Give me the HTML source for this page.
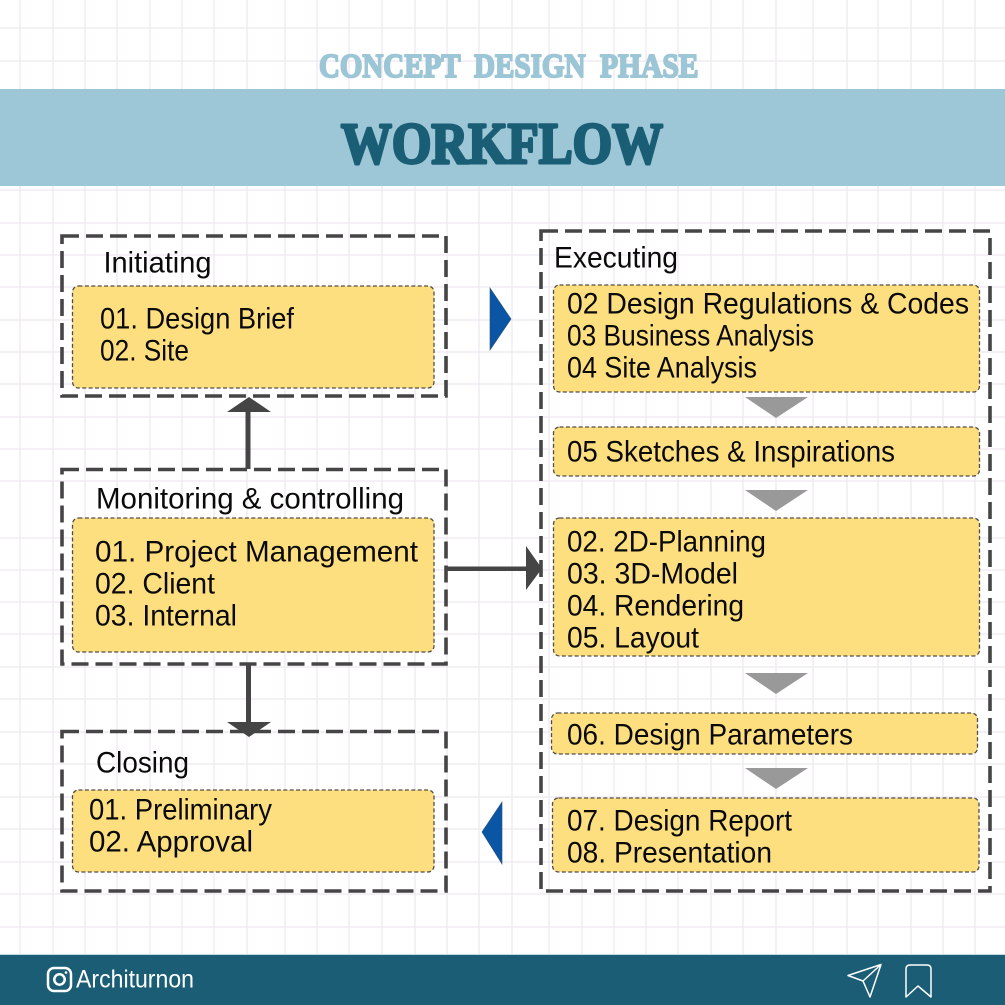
<!DOCTYPE html>
<html lang="en">
<head>
<meta charset="utf-8">
<title>Workflow</title>
<style>
html,body{margin:0;padding:0;background:#fff;width:1005px;height:1005px;overflow:hidden}
svg{display:block}
text{font-family:"Liberation Sans",sans-serif;font-size:29.5px;fill:#0a0a0a}
.t{font-family:"Liberation Serif",serif;font-weight:700}
.c{font-size:34px;fill:#9cc6d6;stroke:#9cc6d6;stroke-width:2;stroke-linejoin:round}
.o{fill:none;stroke:#454545;stroke-width:3.6;stroke-dasharray:17 7}
.i{fill:#fedf80;stroke:#4f4d48;stroke-width:1.3;stroke-dasharray:4 2.400}
.g{fill:#999}
</style>
</head>
<body>
<svg width="1005" height="1005" viewBox="0 0 1005 1005" xmlns="http://www.w3.org/2000/svg">
<rect width="1005" height="1005" fill="#fff"/>
<path fill="none" stroke="#f0ebf2" stroke-width="1.500" d="M20 0V955M53 0V955M85 0V955M117 0V955M150 0V955M182 0V955M214 0V955M247 0V955M285 0V955M317 0V955M349 0V955M382 0V955M415 0V955M447 0V955M479 0V955M512 0V955M549 0V955M582 0V955M614 0V955M646 0V955M678 0V955M711 0V955M743 0V955M776 0V955M813 0V955M847 0V955M878 0V955M911 0V955M943 0V955M975 0V955M0 28H1005M0 61H1005M0 190H1005M0 223H1005M0 255H1005M0 287H1005M0 320H1005M0 352H1005M0 384H1005M0 417H1005M0 449H1005M0 481H1005M0 538H1005M0 570H1005M0 602H1005M0 634H1005M0 667H1005M0 699H1005M0 732H1005M0 764H1005M0 797H1005M0 829H1005M0 862H1005M0 894H1005M0 927H1005"/>

<text class="t c" x="319" y="77" textLength="141.500" lengthAdjust="spacingAndGlyphs">CONCEPT</text>
<text class="t c" x="474" y="77" textLength="111.500" lengthAdjust="spacingAndGlyphs">DESIGN</text>
<text class="t c" x="600" y="77" textLength="98.500" lengthAdjust="spacingAndGlyphs">PHASE</text>
<rect x="0" y="89" width="1005" height="97" fill="#9dc6d6"/>
<text class="t" x="341" y="163" style="font-size:58px;fill:#1a5e76;stroke:#1a5e76;stroke-width:3;stroke-linejoin:round" textLength="322" lengthAdjust="spacingAndGlyphs">WORKFLOW</text>

<!-- outer boxes -->
<rect class="o" x="62" y="236" width="384" height="160"/>
<rect class="o" x="62" y="469.500" width="384" height="194.500"/>
<rect class="o" x="62" y="731.500" width="384" height="159.500"/>
<rect class="o" x="541" y="231" width="449" height="660"/>

<!-- inner boxes -->
<rect class="i" x="72.500" y="286" width="361.500" height="102" rx="6"/>
<rect class="i" x="72.500" y="518" width="361.500" height="134" rx="6"/>
<rect class="i" x="72.500" y="790" width="361.500" height="82" rx="6"/>
<rect class="i" x="553.500" y="285" width="426" height="107" rx="6"/>
<rect class="i" x="553.500" y="427" width="426" height="49" rx="6"/>
<rect class="i" x="553.500" y="518" width="426" height="138" rx="6"/>
<rect class="i" x="551.500" y="713" width="426" height="41" rx="6"/>
<rect class="i" x="552.500" y="798" width="426.500" height="74" rx="6"/>

<!-- connectors -->
<g fill="#454545" stroke="none">
<rect x="245.500" y="408" width="5" height="61"/>
<polygon points="227,412 249,397 271,412"/>
<rect x="246" y="664" width="5" height="60"/>
<polygon points="227,722 271,722 249,737"/>
<rect x="446" y="566.500" width="82" height="4.500"/>
<polygon points="526,546 542,568.500 526,590"/>
</g>

<!-- blue triangles -->
<polygon points="490,288 511,319 490,350" fill="#0b55a5" stroke="#24507e" stroke-width=".6"/>
<polygon points="502,802 482,832 502,864" fill="#0b55a5" stroke="#24507e" stroke-width=".6"/>

<!-- grey triangles -->
<polygon class="g" points="745,397 808,397 776,418"/>
<polygon class="g" points="745,490 808,490 776,511"/>
<polygon class="g" points="745,673 808,673 776,694"/>
<polygon class="g" points="745,768 808,768 776,789"/>

<!-- labels -->
<g transform="translate(0,.7)">
<text x="103.500" y="272" textLength="108" lengthAdjust="spacingAndGlyphs">Initiating</text>
<text x="100" y="328" textLength="194" lengthAdjust="spacingAndGlyphs">01. Design Brief</text>
<text x="100" y="360" textLength="89" lengthAdjust="spacingAndGlyphs">02. Site</text>

<text x="96" y="508" textLength="308" lengthAdjust="spacingAndGlyphs">Monitoring &amp; controlling</text>
<text x="95" y="561" textLength="323" lengthAdjust="spacingAndGlyphs">01. Project Management</text>
<text x="95" y="593" textLength="120" lengthAdjust="spacingAndGlyphs">02. Client</text>
<text x="95" y="625" textLength="142" lengthAdjust="spacingAndGlyphs">03. Internal</text>

<text x="96" y="772" textLength="93" lengthAdjust="spacingAndGlyphs">Closing</text>
<text x="89" y="819" textLength="183" lengthAdjust="spacingAndGlyphs">01. Preliminary</text>
<text x="89" y="851" textLength="164" lengthAdjust="spacingAndGlyphs">02. Approval</text>

<text x="554" y="267" textLength="124" lengthAdjust="spacingAndGlyphs">Executing</text>
<text x="567" y="313" textLength="402" lengthAdjust="spacingAndGlyphs">02 Design Regulations &amp; Codes</text>
<text x="567" y="345" textLength="247" lengthAdjust="spacingAndGlyphs">03 Business Analysis</text>
<text x="567" y="377" textLength="190" lengthAdjust="spacingAndGlyphs">04 Site Analysis</text>
<text x="567" y="461" textLength="328" lengthAdjust="spacingAndGlyphs">05 Sketches &amp; Inspirations</text>
<text x="567" y="551" textLength="199" lengthAdjust="spacingAndGlyphs">02. 2D-Planning</text>
<text x="567" y="583" textLength="171" lengthAdjust="spacingAndGlyphs">03. 3D-Model</text>
<text x="567" y="615" textLength="177" lengthAdjust="spacingAndGlyphs">04. Rendering</text>
<text x="567" y="647" textLength="132" lengthAdjust="spacingAndGlyphs">05. Layout</text>
<text x="567" y="744" textLength="286" lengthAdjust="spacingAndGlyphs">06. Design Parameters</text>
<text x="567" y="830" textLength="225" lengthAdjust="spacingAndGlyphs">07. Design Report</text>
<text x="567" y="862" textLength="205" lengthAdjust="spacingAndGlyphs">08. Presentation</text>
</g>

<!-- footer -->
<rect x="0" y="954" width="1005" height="1.500" fill="#c5d8e0"/>
<rect x="0" y="955" width="1005" height="50" fill="#1a5d75"/>
<g fill="none" stroke="#fff">
<rect x="48" y="968" width="23" height="23" rx="6" stroke-width="2.500"/>
<circle cx="59.500" cy="979.500" r="5.200" stroke-width="2.500"/>
<circle cx="66" cy="972.500" r="1.300" fill="#fff" stroke="none"/>
<path stroke-width="1.500" stroke-linejoin="round" d="M848 975.500L881 964.500L870 997L863 981ZM881 964.500L863 981"/>
<path stroke-width="1.500" stroke-linejoin="round" d="M906 997V969Q906 965 910 965H927Q931 965 931 969V997L918 986Z"/>
</g>
<text x="76" y="987.500" style="font-size:25px;fill:#fff" textLength="118" lengthAdjust="spacingAndGlyphs">Architurnon</text>
</svg>
</body>
</html>
